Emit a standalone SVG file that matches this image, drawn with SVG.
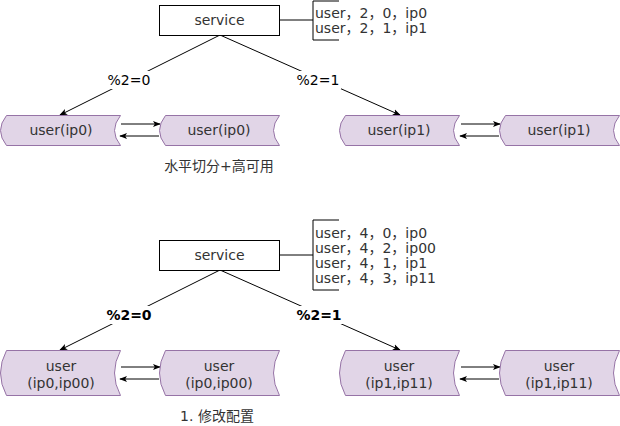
<svg xmlns="http://www.w3.org/2000/svg" width="620" height="426" viewBox="0 0 620 426">
<defs>
<style>
text{font-family:"DejaVu Sans","Noto Sans CJK SC",sans-serif;font-size:14px;fill:#333}
.c{text-anchor:middle}
.box{fill:#fff;stroke:#000;stroke-width:1}
.ds{fill:#e1d5e7;stroke:#9673a6;stroke-width:1}
.e{fill:none;stroke:#000;stroke-width:1}
.lbl{fill:#000}
.b{font-weight:bold}
</style>
<marker id="ah" viewBox="0 0 10 10" refX="9" refY="5" markerWidth="8" markerHeight="8" markerUnits="userSpaceOnUse" orient="auto">
<path d="M0,1 L10,5 L0,9 L2.5,5 Z" fill="#000"/>
</marker>
</defs>
<rect width="620" height="426" fill="#fff"/>

<g id="connectors">
<path class="e" d="M220,35 L60,115" marker-end="url(#ah)"/>
<path class="e" d="M220,35 L400,115" marker-end="url(#ah)"/>
<path class="e" d="M280,20 H313"/>
<path class="e" d="M339,1 H313 V40 H339"/>
<path class="e" d="M121,124 H160" marker-end="url(#ah)"/>
<path class="e" d="M159,136 H120" marker-end="url(#ah)"/>
<path class="e" d="M461,124 H500" marker-end="url(#ah)"/>
<path class="e" d="M499,136 H460" marker-end="url(#ah)"/>

<path class="e" d="M220,270 L60,350" marker-end="url(#ah)"/>
<path class="e" d="M220,270 L400,350" marker-end="url(#ah)"/>
<path class="e" d="M280,255 H313"/>
<path class="e" d="M339,220 H313 V290 H339"/>
<path class="e" d="M121,367 H160" marker-end="url(#ah)"/>
<path class="e" d="M159,379 H120" marker-end="url(#ah)"/>
<path class="e" d="M461,367 H500" marker-end="url(#ah)"/>
<path class="e" d="M499,379 H460" marker-end="url(#ah)"/>

<rect x="108" y="71" width="44" height="18" fill="#fff"/>
<text class="c lbl" x="129" y="85">%2=0</text>
<rect x="297" y="71" width="44" height="18" fill="#fff"/>
<text class="c lbl" x="318" y="85">%2=1</text>
<rect x="105" y="306" width="48" height="18" fill="#fff"/>
<text class="c lbl b" x="129" y="320">%2=0</text>
<rect x="295" y="306" width="48" height="18" fill="#fff"/>
<text class="c lbl b" x="319" y="320">%2=1</text>
</g>

<g id="service1">
<rect class="box" x="159.5" y="5.5" width="120" height="30"/>
<text class="c" x="219.5" y="25">service</text>
</g>
<g id="note1">
<text x="315" y="18">user，2，0，ip0</text>
<text x="315" y="33">user，2，1，ip1</text>
</g>

<g id="n1">
<path class="ds" d="M6.5,115.5 H120.5 Q108.5,130.5 120.5,145.5 H6.5 Q-5.5,130.5 6.5,115.5 Z"/>
<text class="c" x="61" y="135">user(ip0)</text>
</g>
<g id="n2">
<path class="ds" d="M165.5,115.5 H279.5 Q267.5,130.5 279.5,145.5 H165.5 Q153.5,130.5 165.5,115.5 Z"/>
<text class="c" x="219" y="135">user(ip0)</text>
</g>
<g id="n3">
<path class="ds" d="M345.5,115.5 H459.5 Q447.5,130.5 459.5,145.5 H345.5 Q333.5,130.5 345.5,115.5 Z"/>
<text class="c" x="399" y="135">user(ip1)</text>
</g>
<g id="n4">
<path class="ds" d="M505.5,115.5 H619.5 Q607.5,130.5 619.5,145.5 H505.5 Q493.5,130.5 505.5,115.5 Z"/>
<text class="c" x="559" y="135">user(ip1)</text>
</g>
<g id="caption1">
<text class="c" x="219" y="171">水平切分+高可用</text>
</g>

<g id="service2">
<rect class="box" x="159.5" y="240.5" width="120" height="30"/>
<text class="c" x="219.5" y="260">service</text>
</g>
<g id="note2">
<text x="315" y="238">user，4，0，ip0</text>
<text x="315" y="253">user，4，2，ip00</text>
<text x="315" y="268">user，4，1，ip1</text>
<text x="315" y="283">user，4，3，ip11</text>
</g>

<g id="m1">
<path class="ds" d="M6.5,350.5 H120.5 Q108.5,373 120.5,395.5 H6.5 Q-5.5,373 6.5,350.5 Z"/>
<text class="c" x="61" y="371">user</text>
<text class="c" x="61" y="388">(ip0,ip00)</text>
</g>
<g id="m2">
<path class="ds" d="M165.5,350.5 H279.5 Q267.5,373 279.5,395.5 H165.5 Q153.5,373 165.5,350.5 Z"/>
<text class="c" x="219" y="371">user</text>
<text class="c" x="219" y="388">(ip0,ip00)</text>
</g>
<g id="m3">
<path class="ds" d="M345.5,350.5 H459.5 Q447.5,373 459.5,395.5 H345.5 Q333.5,373 345.5,350.5 Z"/>
<text class="c" x="399" y="371">user</text>
<text class="c" x="399" y="388">(ip1,ip11)</text>
</g>
<g id="m4">
<path class="ds" d="M505.5,350.5 H619.5 Q607.5,373 619.5,395.5 H505.5 Q493.5,373 505.5,350.5 Z"/>
<text class="c" x="559" y="371">user</text>
<text class="c" x="559" y="388">(ip1,ip11)</text>
</g>
<g id="caption2">
<text class="c" x="217" y="421">1. 修改配置</text>
</g>
</svg>
